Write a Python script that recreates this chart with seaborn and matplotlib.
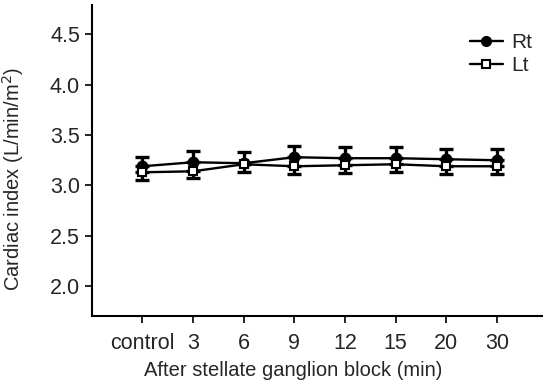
import matplotlib
matplotlib.use("Agg")
import matplotlib.pyplot as plt
import seaborn as sns
import pandas as pd
import numpy as np

# values
times = ["control", "3", "6", "9", "12", "15", "20", "30"]
rt_mean = [3.19, 3.23, 3.22, 3.28, 3.27, 3.27, 3.26, 3.25]
rt_err = [0.09, 0.11, 0.11, 0.11, 0.11, 0.11, 0.10, 0.11]
lt_mean = [3.13, 3.14, 3.21, 3.19, 3.20, 3.21, 3.19, 3.19]
lt_err = [0.08, 0.07, 0.08, 0.08, 0.08, 0.08, 0.08, 0.08]

sns.set_style("ticks")
plt.rcParams["font.family"] = ["Liberation Sans", "DejaVu Sans"]

df = pd.DataFrame({
    "pos": list(range(len(times))) * 2,
    "ci": rt_mean + lt_mean,
    "side": ["Rt"] * len(times) + ["Lt"] * len(times),
})

fig = plt.figure(figsize=(5.43, 3.89), dpi=100)
ax = fig.add_axes([0.169, 0.1877, 0.83, 0.7995])

x = np.arange(len(times))
# one-sided error bars: Rt up, Lt down
ax.errorbar(x, rt_mean, yerr=[np.zeros(len(x)), rt_err], fmt="none",
            ecolor="black", elinewidth=2.4, capsize=4.8, capthick=2.4, zorder=2)
ax.errorbar(x, lt_mean, yerr=[lt_err, np.zeros(len(x))], fmt="none",
            ecolor="black", elinewidth=2.4, capsize=4.8, capthick=2.4, zorder=2)

sns.lineplot(data=df, x="pos", y="ci", style="side", hue="side",
             palette={"Rt": "black", "Lt": "black"},
             markers={"Rt": "o", "Lt": "s"}, dashes=False,
             linewidth=1.7, markersize=7, markeredgecolor="black",
             markeredgewidth=1.5, ax=ax, legend=False, zorder=3)

# open squares for Lt
for line in ax.get_lines():
    if line.get_marker() == "s":
        line.set_markerfacecolor("white")
        line.set_markersize(5.5)

ax.set_xlim(-1.0, 7.9)
ax.set_ylim(1.702, 4.793)
ax.set_xticks(x)
ax.set_xticklabels(times)
ax.set_yticks([2.0, 2.5, 3.0, 3.5, 4.0, 4.5])
ax.set_yticklabels(["2.0", "2.5", "3.0", "3.5", "4.0", "4.5"])
ax.tick_params(labelsize=15.5, width=1.2, length=5, color="black")
ax.tick_params(axis="x", pad=7)
ax.set_xlabel("After stellate ganglion block (min)", fontsize=14.5)
ax.set_ylabel("Cardiac index (L/min/m$^2$)", fontsize=14.5)
ax.xaxis.set_label_coords(0.446, -0.145)
ax.yaxis.set_label_coords(-0.145, 0.44)
for s in ["top", "right"]:
    ax.spines[s].set_visible(False)
for s in ["left", "bottom"]:
    ax.spines[s].set_linewidth(1.5)
    ax.spines[s].set_color("black")

handles = [
    plt.Line2D([], [], color="black", lw=1.7, marker="o", ms=7),
    plt.Line2D([], [], color="black", lw=1.7, marker="s", ms=5.5,
               markerfacecolor="white", markeredgewidth=1.5),
]
ax.legend(handles, ["Rt", "Lt"], loc="upper left",
          bbox_to_anchor=(0.866, 0.915), bbox_transform=fig.transFigure,
          frameon=False, fontsize=15, handlelength=1.55, handletextpad=0.4,
          labelspacing=0.2, borderpad=0, borderaxespad=0)

fig.savefig("out.png", dpi=100)
